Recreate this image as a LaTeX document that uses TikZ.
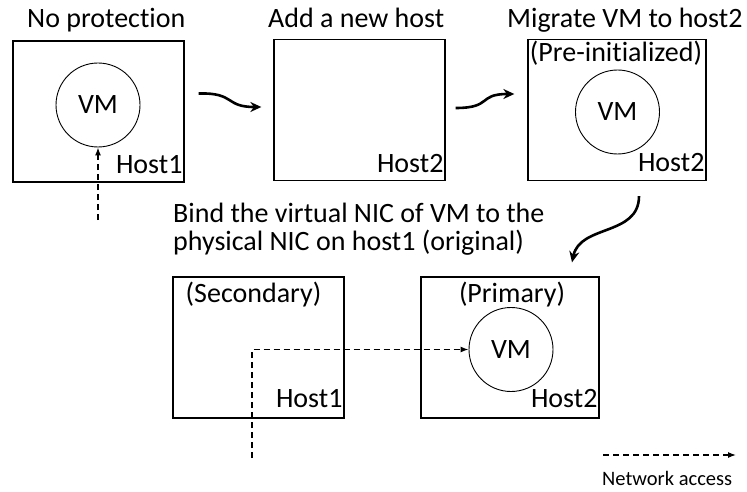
\documentclass[tikz,border=0pt]{standalone}
\usepackage{fontspec}
\setmainfont{Carlito}[Ligatures={NoCommon,NoRequired,NoContextual}, RawFeature=-calt]
\usetikzlibrary{arrows.meta}

\begin{document}
\begin{tikzpicture}[x=1pt, y=-1pt,
hostnode/.style={rectangle, draw=black, line width=1.3pt, minimum width=171pt, minimum height=141pt, inner sep=0pt},
vmnode/.style={circle, draw=black, line width=0.9pt, minimum size=84pt, inner sep=0pt, font=\fontsize{28}{30}\selectfont},
textnode/.style={inner sep=0pt, font=\fontsize{28}{28}\selectfont},
flow/.style={-{Stealth[length=11pt, width=10pt]}, line width=2.6pt},
net/.style={-{Latex[length=8pt, width=6pt]}, line width=1.2pt, dash pattern=on 6pt off 4pt},
]
\useasboundingbox (0,0) rectangle (747,492);
%Nodes
\node[hostnode](hostA) at(98.5,111.5) {};
\node[hostnode](hostB) at(359.5,110) {};
\node[hostnode, minimum width=178pt](hostC) at(617,110) {};
\node[hostnode](hostD) at(258.5,347.5) {};
\node[hostnode, minimum width=178pt](hostE) at(510,347.5) {};
\node[vmnode](vmA) at(98,105) {VM};
\node[vmnode](vmC) at(617.5,112) {VM};
\node[vmnode](vmE) at(511,349.5) {VM};
\node[textnode, anchor=base west](titleA) at(27,28) {No protection};
\node[textnode, anchor=base west](titleB) at(268,28) {Add a new host};
\node[textnode, anchor=base west](titleC) at(507,28) {Migrate VM to host2};
\node[textnode, anchor=base](stateC) at(616,62) {(Pre-initialized)};
\node[textnode, anchor=base](stateD) at(253.5,302) {(Secondary)};
\node[textnode, anchor=base](stateE) at(512,302) {(Primary)};
\node[textnode, anchor=base east](labA) at([xshift=-2pt, yshift=9pt]hostA.south east) {Host1};
\node[textnode, anchor=base east](labB) at([xshift=-2pt, yshift=9pt]hostB.south east) {Host2};
\node[textnode, anchor=base east](labC) at([xshift=-2pt, yshift=10pt]hostC.south east) {Host2};
\node[textnode, anchor=base east](labD) at([xshift=-2pt, yshift=11pt]hostD.south east) {Host1};
\node[textnode, anchor=base east](labE) at([xshift=-2pt, yshift=11pt]hostE.south east) {Host2};
\node[textnode, anchor=north west, align=left](bind) at(173,203) {Bind the virtual NIC of VM to the\\physical NIC on host1 (original)};
\node[inner sep=0pt, font=\fontsize{20.5}{22}\selectfont, anchor=base west](legend) at(602,485) {Network access};
\coordinate (netA) at (98,220);
\coordinate (netD) at (252,458);
\coordinate (legA) at (603,455);
\coordinate (legB) at (736,455);
%Lines
\draw[flow] ([xshift=14pt, yshift=18pt]hostA.east) .. controls +(37,-1) and +(-37,0) .. ([xshift=-12pt, yshift=3pt]hostB.west);
\draw[flow] ([xshift=10pt, yshift=2pt]hostB.east) .. controls +(37,0) and +(-37,0) .. ([xshift=-13pt, yshift=16pt]hostC.west);
\draw[flow] ([xshift=22pt, yshift=-15pt]hostC.south) .. controls +(0,40) and +(8,-38) .. ([xshift=62pt, yshift=14pt]hostE.north);
\draw[net] (netA) -- (vmA);
\draw[net] (netD) |- (vmE);
\draw[net] (legA) -- (legB);
\end{tikzpicture}
\end{document}
